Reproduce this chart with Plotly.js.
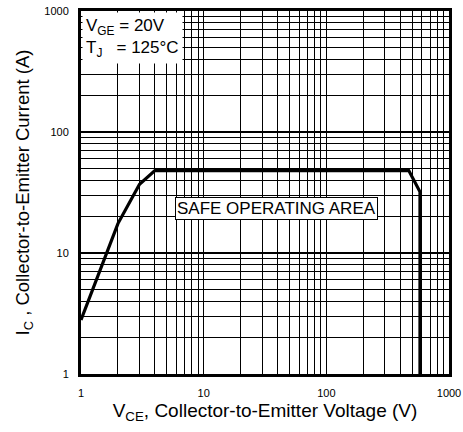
<!DOCTYPE html>
<html><head><meta charset="utf-8">
<script src="https://cdn.plot.ly/plotly-3.0.1.min.js"></script>
<style>body{margin:0;padding:0;background:#fff}#chart{width:463px;height:432px}</style>
</head><body><div id="chart"></div>
<script>
// Safe operating area boundary (VCE in V, IC in A)
const vce = [1, 2, 3, 4, 470, 580, 580];
const ic  = [2.8, 17.5, 37, 48, 48, 32, 1];
const xTicks = [1, 10, 100, 1000];
const yTicks = [1, 10, 100, 1000];
const conditionText = ['V<sub>GE</sub> = 20V', 'T<sub>J</sub>   = 125°C'];
const areaLabel = 'SAFE OPERATING AREA';

const font = '"Liberation Sans", Arial, sans-serif';
const axisCommon = {
  type: 'log',
  tickmode: 'linear', tick0: 0, dtick: 1,
  showgrid: true, gridcolor: '#000', gridwidth: 1.6,
  minor: {showgrid: true, gridcolor: '#000', gridwidth: 1, ticks: '', dtick: 'D1'},
  showline: true, linecolor: '#000', linewidth: 3, mirror: true,
  ticks: '', zeroline: false,
  tickfont: {family: font, size: 11, color: '#000'}
};
const layout = {
  width: 463, height: 432,
  margin: {l: 81, r: 14, t: 11, b: 58},
  paper_bgcolor: '#fff', plot_bgcolor: '#fff',
  showlegend: false,
  xaxis: Object.assign({}, axisCommon, {
    range: [0, 3], ticklabelstandoff: 7,
    title: {text: 'V<sub>CE</sub>, Collector-to-Emitter Voltage (V)', font: {family: font, size: 19, color: '#000'}, standoff: 6}
  }),
  yaxis: Object.assign({}, axisCommon, {
    range: [0, 3], ticklabelstandoff: 7,
    title: {text: 'I<sub>C</sub> , Collector-to-Emitter Current (A)', font: {family: font, size: 18.5, color: '#000'}, standoff: 10}
  }),
  annotations: [
    {xref: 'paper', yref: 'paper', x: 0.004, y: 0.997, xanchor: 'left', yanchor: 'top',
     text: conditionText.join('<br>'), align: 'left', showarrow: false,
     bgcolor: '#fff', borderpad: 3, font: {family: font, size: 17, color: '#000'}},
    {x: Math.log10(39), y: Math.log10(23.5), text: areaLabel, showarrow: false,
     bgcolor: '#fff', bordercolor: '#000', borderwidth: 1, borderpad: 1,
     font: {family: font, size: 17, color: '#000'}}
  ]
};
const data = [{
  x: vce, y: ic, mode: 'lines', type: 'scatter',
  line: {color: '#000', width: 3.2}, hoverinfo: 'skip'
}];
Plotly.newPlot('chart', data, layout, {staticPlot: true, displayModeBar: false});
</script></body></html>
